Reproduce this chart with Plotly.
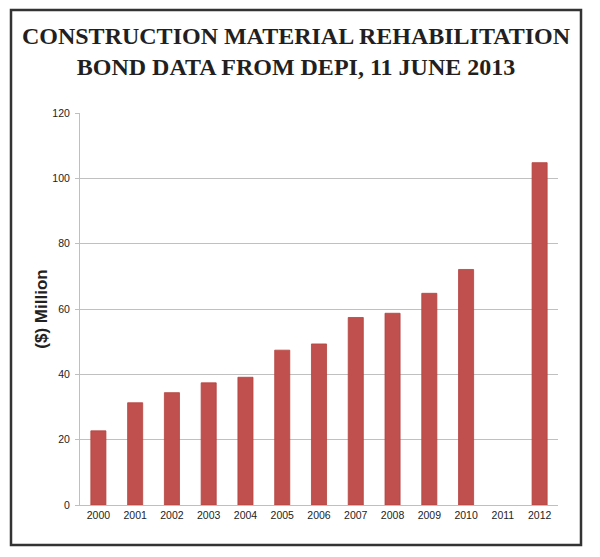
import plotly.graph_objects as go

# bond data, $ million (no value for 2011)
years = ["2000", "2001", "2002", "2003", "2004", "2005", "2006",
         "2007", "2008", "2009", "2010", "2011", "2012"]
bond_values = [22.7, 31.3, 34.4, 37.4, 39.1, 47.4, 49.3,
               57.4, 58.7, 64.8, 72.1, None, 104.8]

title = "CONSTRUCTION MATERIAL REHABILITATION<br>BOND DATA FROM DEPI, 11 JUNE 2013"

# the page body adds 8px, so the figure is laid out 8px up/left of the picture
OFF = 8
W, H = 600, 557
L, R, T, B = 80 - OFF, W - (558 - OFF), 113 - OFF, H - (505 - OFF)
PW, PH = W - L - R, H - T - B

fig = go.Figure(go.Bar(x=years, y=bond_values,
                       marker_color="#C0504D",
                       marker_line=dict(color="#B5423F", width=0.8)))

fig.update_layout(
    width=W, height=H,
    margin=dict(l=L, r=R, t=T, b=B, autoexpand=False),
    paper_bgcolor="white", plot_bgcolor="white",
    bargap=0.59,
    showlegend=False,
    title=dict(text=title, x=(296 - OFF) / W, xanchor="center",
               y=1 - (44 - OFF) / H, yanchor="top",
               font=dict(family="Liberation Serif", size=24, color="#231F20", weight="bold")),
    font=dict(family="Liberation Sans", size=10.5, color="#333333"),
)

fig.update_xaxes(type="category", showline=True, linecolor="#BFBFBF", linewidth=1,
                 ticks="", showgrid=False, tickfont=dict(size=10.5, color="#222222"))
fig.update_yaxes(range=[0, 120], dtick=20, showgrid=True, gridcolor="#C0C0C0", gridwidth=1.2,
                 showline=True, linecolor="#BFBFBF", linewidth=1, zeroline=False,
                 ticks="outside", ticklen=4, tickcolor="#BFBFBF", ticklabelstandoff=3,
                 tickfont=dict(size=10.5, color="#222222"),
                 title=dict(text="($) Million", standoff=0,
                            font=dict(family="Liberation Sans", size=17, color="#222222", weight="bold")))

# dark frame round the whole picture
fig.add_shape(type="rect", xref="paper", yref="paper",
              x0=(11 - 80) / PW, x1=(581 - 80) / PW,
              y0=(505 - 545) / PH, y1=(505 - 10) / PH,
              line=dict(color="#333333", width=2.5), fillcolor="rgba(0,0,0,0)")

fig.write_html("out.html")
